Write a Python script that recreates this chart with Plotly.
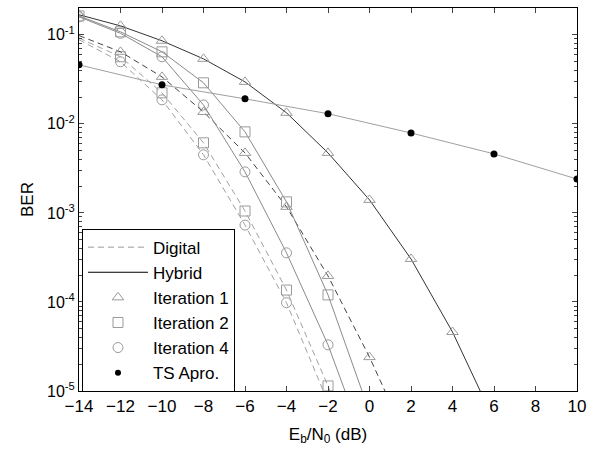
import plotly.graph_objects as go

# ---- data ----
snr_db = [-14, -12, -10, -8, -6, -4, -2, 0, 2, 4, 6, 8, 10]

hyb_it1 = [0.168, 0.126, 0.0857, 0.0537, 0.0296, 0.0133, 0.00472, 0.0014, 3.04e-4, 4.6e-5, 4.7e-6]
hyb_it2 = [0.163, 0.108, 0.0644, 0.0289, 0.00813, 0.00133, 1.2e-4, 5.8e-6]
hyb_it4 = [0.159, 0.104, 0.0567, 0.0163, 0.00289, 3.56e-4, 3.3e-5, 1.8e-6]

dig_it1 = [0.098, 0.0644, 0.0337, 0.0136, 0.00472, 0.00117, 1.96e-4, 2.4e-5, 2.3e-6]
dig_it2 = [0.092, 0.0567, 0.0223, 0.00612, 0.00105, 1.36e-4, 1.14e-5, 7.0e-7]
dig_it4 = [0.088, 0.0498, 0.0186, 0.00449, 7.3e-4, 9.8e-5, 7.5e-6]

ts_x = [-14, -10, -6, -2, 2, 6, 10]
ts_apro = [0.046, 0.0274, 0.0191, 0.0130, 0.0079, 0.0046, 0.0024]

x_ticks = [-14, -12, -10, -8, -6, -4, -2, 0, 2, 4, 6, 8, 10]
y_ticks = [1e-5, 1e-4, 1e-3, 1e-2, 1e-1]
y_ticktext = ["10<sup>-5</sup>", "10<sup>-4</sup>", "10<sup>-3</sup>", "10<sup>-2</sup>", "10<sup>-1</sup>"]
y_minor = [m * d for d in [1e-5, 1e-4, 1e-3, 1e-2, 1e-1] for m in range(2, 10) if m * d <= 0.2]

legend_names = ["Digital", "Hybrid", "Iteration 1", "Iteration 2", "Iteration 4", "TS Apro."]

MK_COL = "#9a9a9a"
FONT = "Liberation Sans, Arial, sans-serif"

fig = go.Figure()

def curve(xs, ys, color, dash, symbol, marker_from=0):
    n = len(ys)
    fig.add_trace(go.Scatter(x=xs[:n], y=ys, mode="lines", showlegend=False,
                             line=dict(color=color, width=1, dash=dash), hoverinfo="skip"))
    fig.add_trace(go.Scatter(x=xs[marker_from:n], y=ys[marker_from:], mode="markers", showlegend=False,
                             marker=dict(symbol=symbol, size=10, color=MK_COL,
                                         line=dict(color=MK_COL, width=1)), hoverinfo="skip"))

DASH = "6px,4px"
curve(snr_db, dig_it4, "#a0a0a0", DASH, "circle-open", 1)
curve(snr_db, dig_it2, "#a0a0a0", DASH, "square-open", 1)
curve(snr_db, dig_it1, "#444444", DASH, "triangle-up-open", 1)
curve(snr_db, hyb_it4, "#8a8a8a", "solid", "circle-open")
curve(snr_db, hyb_it2, "#8a8a8a", "solid", "square-open")
curve(snr_db, hyb_it1, "#333333", "solid", "triangle-up-open")

fig.add_trace(go.Scatter(x=ts_x, y=ts_apro, mode="lines+markers", showlegend=False,
                         line=dict(color="#a0a0a0", width=1),
                         marker=dict(symbol="circle", size=7, color="black"), hoverinfo="skip"))

# legend entries
leg_styles = [
    dict(mode="lines", line=dict(color="#999999", width=1, dash=DASH)),
    dict(mode="lines", line=dict(color="black", width=1)),
    dict(mode="markers", marker=dict(symbol="triangle-up-open", size=10, color=MK_COL, line=dict(color=MK_COL, width=1))),
    dict(mode="markers", marker=dict(symbol="square-open", size=10, color=MK_COL, line=dict(color=MK_COL, width=1))),
    dict(mode="markers", marker=dict(symbol="circle-open", size=10, color=MK_COL, line=dict(color=MK_COL, width=1))),
    dict(mode="markers", marker=dict(symbol="circle", size=6, color="black")),
]
for i, (name, st) in enumerate(zip(legend_names, leg_styles)):
    fig.add_trace(go.Scatter(x=[None], y=[None], name=name, legendgroup=f"g{i}", showlegend=True, **st))

fig.update_layout(
    width=596, height=453,
    margin=dict(l=79, r=19, t=8, b=62, autoexpand=False),
    paper_bgcolor="white", plot_bgcolor="white",
    font=dict(family=FONT, size=17, color="black"),
    showlegend=True,
    legend=dict(x=0.006, y=0.424, xanchor="left", yanchor="top",
                bgcolor="white", bordercolor="black", borderwidth=1,
                font=dict(size=17, family=FONT), itemwidth=60, tracegroupgap=0,
                traceorder="normal"),
    xaxis=dict(range=[-14, 10], tickvals=x_ticks, ticks="inside", ticklen=5,
               showline=True, linecolor="black", linewidth=1, mirror="ticks",
               showgrid=False, zeroline=False, tickfont=dict(size=17), automargin=False,
               title=dict(text="E<sub>b</sub>/N<sub>0</sub> (dB)", font=dict(size=17), standoff=12)),
    yaxis=dict(type="log", range=[-5, -0.699], tickvals=y_ticks, ticktext=y_ticktext,
               ticks="inside", ticklen=5, showline=True, linecolor="black", linewidth=1,
               mirror="ticks", showgrid=False, zeroline=False, tickfont=dict(size=16),
               automargin=False,
               minor=dict(tickvals=y_minor, ticks="inside", ticklen=3, showgrid=False),
               title=dict(text="BER", font=dict(size=17), standoff=9)),
)

fig.write_html("out.html", config={"displayModeBar": False},
               post_script="document.body.style.margin='0';document.body.style.overflow='hidden';")
